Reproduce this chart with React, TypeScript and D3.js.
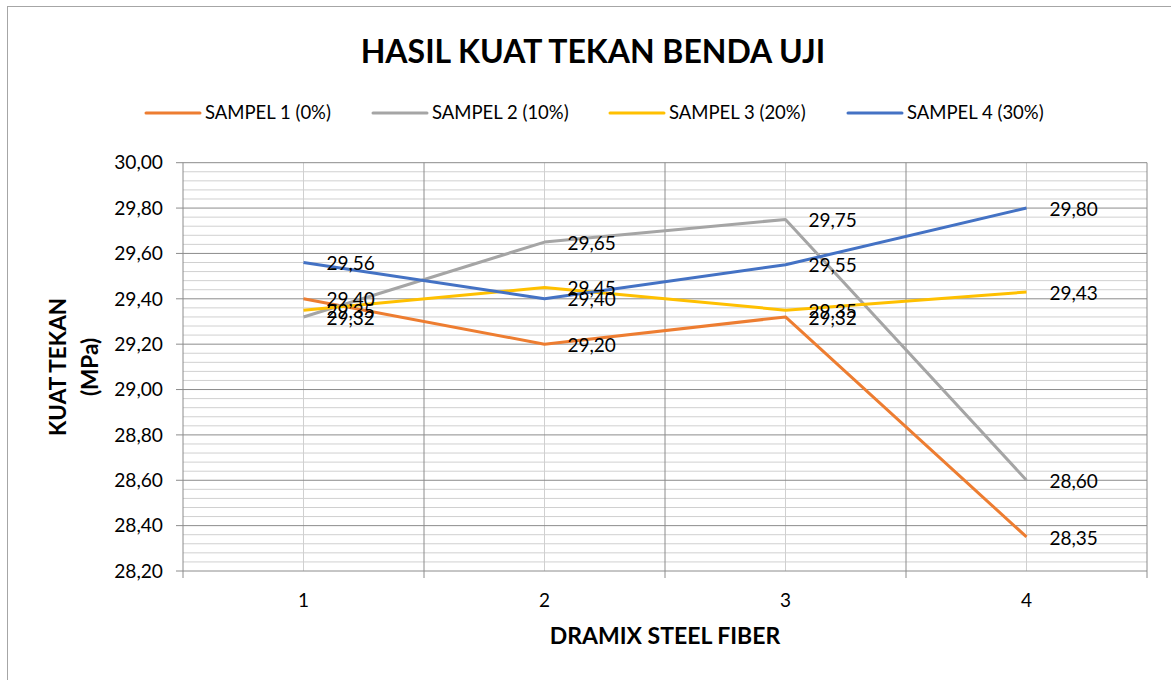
import React from "react";
import * as d3 from "d3";

const categories = ["1", "2", "3", "4"];
const seriesNames = ["SAMPEL 1 (0%)", "SAMPEL 2 (10%)", "SAMPEL 3 (20%)", "SAMPEL 4 (30%)"];
const sampel1 = [29.4, 29.2, 29.32, 28.35];
const sampel2 = [29.32, 29.65, 29.75, 28.6];
const sampel3 = [29.35, 29.45, 29.35, 29.43];
const sampel4 = [29.56, 29.4, 29.55, 29.8];
const seriesColors = ["#ED7D31", "#A5A5A5", "#FFC000", "#4472C4"];
const yMajorTicks = [28.2, 28.4, 28.6, 28.8, 29.0, 29.2, 29.4, 29.6, 29.8, 30.0];
const yMin = 28.2;
const yMax = 30.0;
const minorStep = 0.04;

const FONT = "Lato, 'Open Sans', sans-serif";
const fmt = (v: number) => v.toFixed(2).replace(".", ",");

export default function App() {
  const W = 1171;
  const H = 680;
  const left = 183;
  const right = 1147;
  const top = 162.7;
  const bottom = 571;

  const x = d3.scaleBand<string>().domain(categories).range([left, right]).padding(0);
  const cx = (c: string) => (x(c) as number) + x.bandwidth() / 2;
  const y = d3.scaleLinear().domain([yMin, yMax]).range([bottom, top]);

  const series = [sampel1, sampel2, sampel3, sampel4];
  const line = d3
    .line<number>()
    .x((_, i) => cx(categories[i]))
    .y((d) => y(d));

  const minorTicks: number[] = [];
  const nMinor = Math.round((yMax - yMin) / minorStep);
  for (let i = 1; i < nMinor; i++) {
    const v = yMin + i * minorStep;
    if (Math.abs(v / 0.2 - Math.round(v / 0.2)) > 1e-6) minorTicks.push(v);
  }
  const boundaries = [...categories.map((c) => x(c) as number), right];

  const legendX = [146, 373, 610, 848];

  return (
    <svg
      width={W}
      height={H}
      style={{ position: "absolute", left: 0, top: 0, display: "block", background: "#fff" }}
      fontFamily={FONT}
    >
      <rect x={7.5} y={6.5} width={1172} height={690} fill="#fff" stroke="#a6a6a6" strokeWidth={1} />

      <text x={593} y={63} textAnchor="middle" fontSize={32} fontWeight="bold" fill="#000">
        HASIL KUAT TEKAN BENDA UJI
      </text>

      {seriesNames.map((n, i) => (
        <g key={n}>
          <line x1={legendX[i]} x2={legendX[i] + 54} y1={113} y2={113} stroke={seriesColors[i]} strokeWidth={3} strokeLinecap="round" />
          <text x={legendX[i] + 59} y={113} dy="0.35em" fontSize={18.5} fill="#000">
            {n}
          </text>
        </g>
      ))}

      {minorTicks.map((v) => (
        <line key={"m" + v} x1={left} x2={right} y1={y(v)} y2={y(v)} stroke="#d0d0d0" strokeWidth={1} />
      ))}
      {categories.map((c) => (
        <line key={"vc" + c} x1={cx(c)} x2={cx(c)} y1={top} y2={bottom} stroke="#d0d0d0" strokeWidth={1} />
      ))}
      {yMajorTicks.map((v) => (
        <line key={"M" + v} x1={left - 7} x2={right} y1={y(v)} y2={y(v)} stroke="#8c8c8c" strokeWidth={1} />
      ))}
      {boundaries.map((b, i) => (
        <line key={"vb" + i} x1={b} x2={b} y1={top} y2={bottom + 7} stroke="#8c8c8c" strokeWidth={1} />
      ))}

      {yMajorTicks.map((v) => (
        <text key={"yl" + v} x={163} y={y(v)} dy="0.35em" textAnchor="end" fontSize={19.2} fill="#000">
          {fmt(v)}
        </text>
      ))}
      {categories.map((c) => (
        <text key={"xl" + c} x={cx(c)} y={600} dy="0.35em" textAnchor="middle" fontSize={19} fill="#000">
          {c}
        </text>
      ))}

      <text x={665} y={636} dy="0.35em" textAnchor="middle" fontSize={23} fontWeight="bold" fill="#000">
        DRAMIX STEEL FIBER
      </text>
      <g transform="translate(58,367) rotate(-90)">
        <text x={0} y={0} dy="0.35em" textAnchor="middle" fontSize={22.5} fontWeight="bold" fill="#000">
          KUAT TEKAN
        </text>
      </g>
      <g transform="translate(90,367) rotate(-90)">
        <text x={0} y={0} dy="0.35em" textAnchor="middle" fontSize={22.5} fontWeight="bold" fill="#000">
          (MPa)
        </text>
      </g>

      {series.map((s, i) => (
        <path key={"s" + i} d={line(s) || ""} fill="none" stroke={seriesColors[i]} strokeWidth={3} strokeLinejoin="round" />
      ))}

      {series.map((s, i) =>
        s.map((v, j) => (
          <text key={"dl" + i + "-" + j} x={cx(categories[j]) + 23} y={y(v) + 1} dy="0.35em" fontSize={19} fill="#000">
            {fmt(v)}
          </text>
        ))
      )}
    </svg>
  );
}
